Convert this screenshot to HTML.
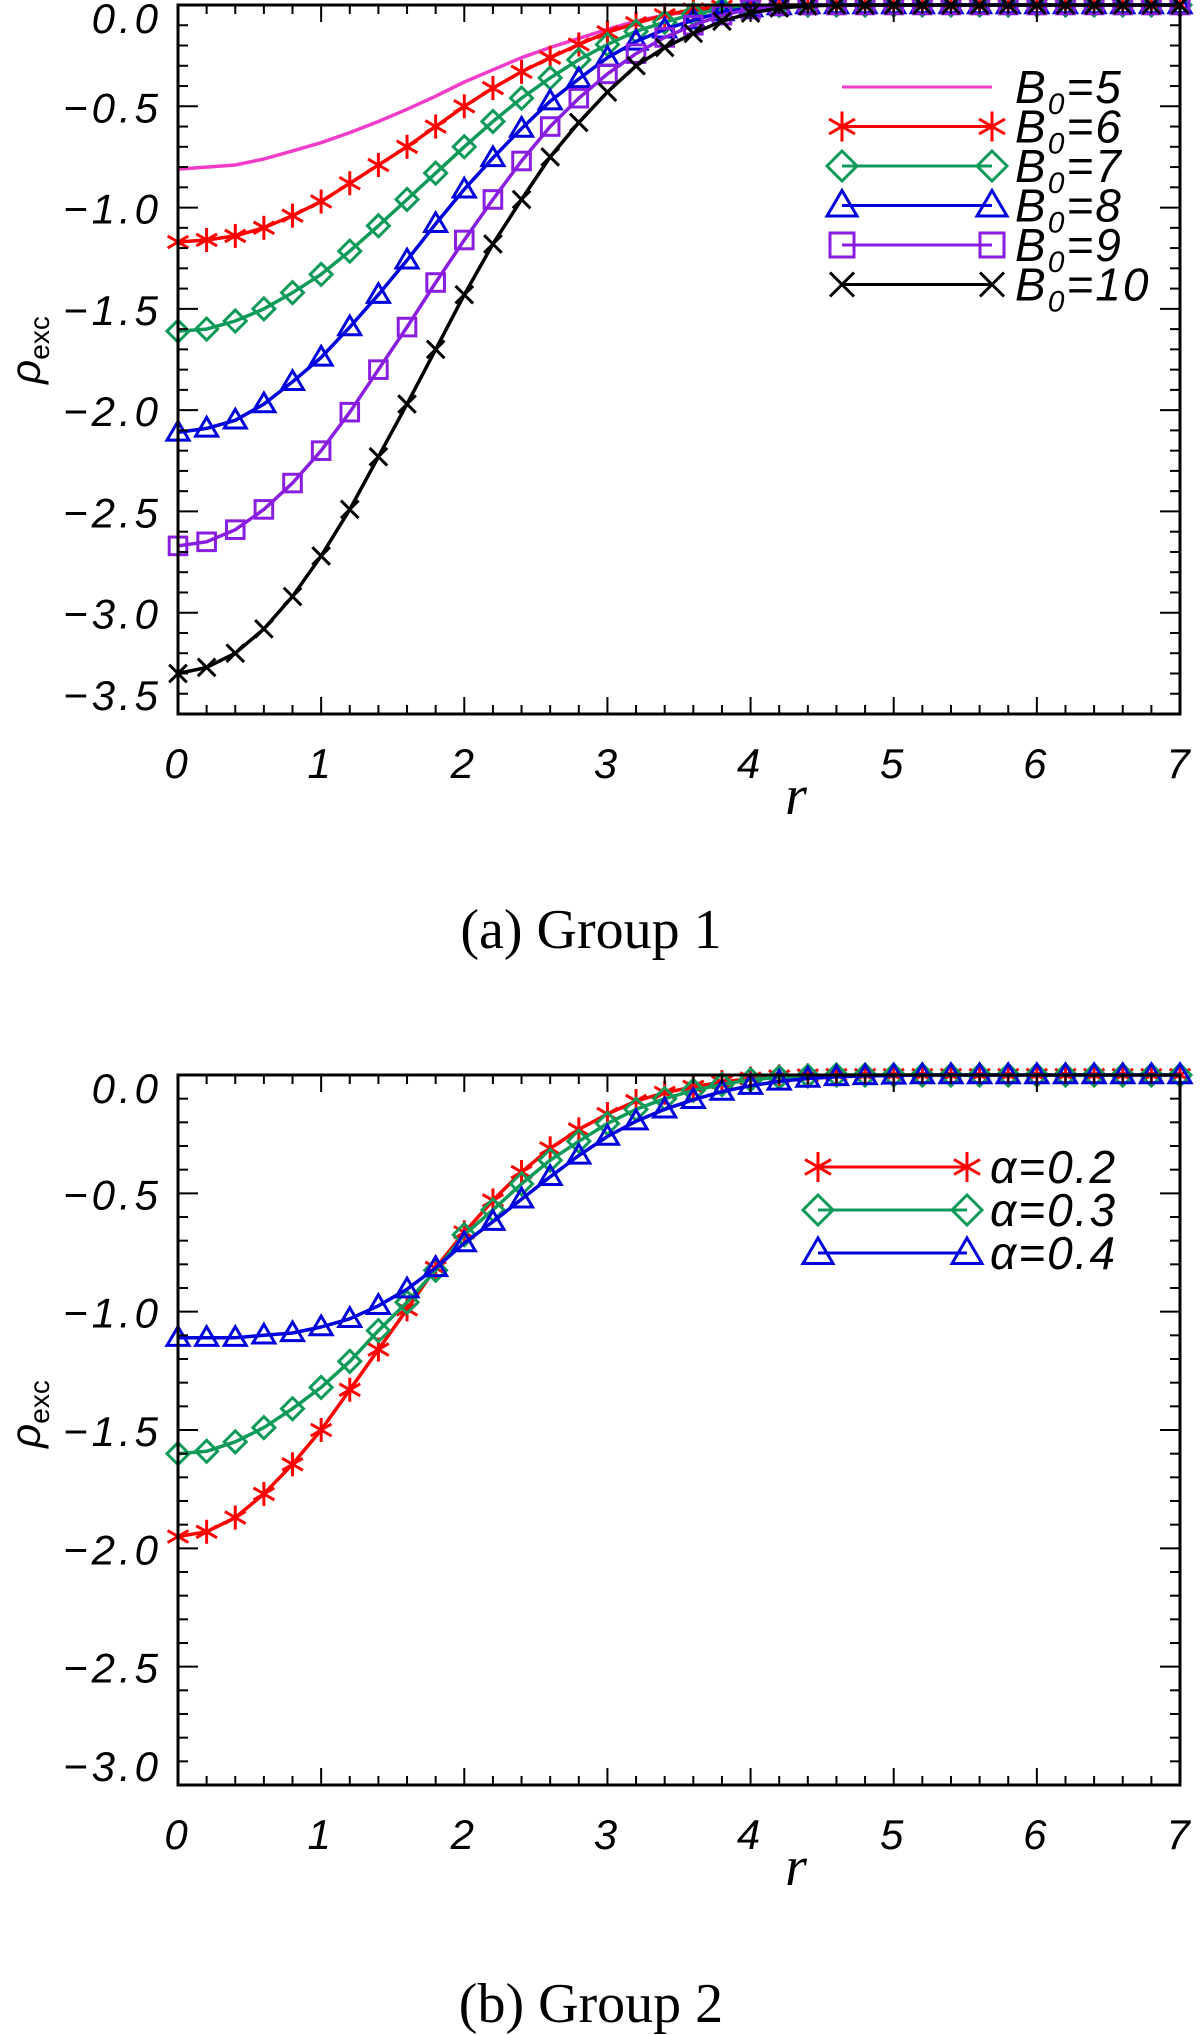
<!DOCTYPE html>
<html><head><meta charset="utf-8"><style>
html,body{margin:0;padding:0;background:#fff;}
svg{display:block;}
.tk{font-family:"Liberation Sans",sans-serif;font-style:italic;font-size:42px;letter-spacing:4px;fill:#000;}
.lg{font-family:"Liberation Sans",sans-serif;font-style:italic;font-size:46px;letter-spacing:2px;fill:#000;}
.cap{font-family:"Liberation Serif",serif;font-size:56px;fill:#000;}
</style></head><body>
<svg id="fig" width="1200" height="2035" viewBox="0 0 1200 2035" xmlns="http://www.w3.org/2000/svg"></svg>
<script>
const rVals=[0,0.2,0.4,0.6,0.8,1.0,1.2,1.4,1.6,1.8,2.0,2.2,2.4,2.6,2.8,3.0,3.2,3.4,3.6,3.8,4.0,4.2,4.4,4.6,4.8,5.0,5.2,5.4,5.6,5.8,6.0,6.2,6.4,6.6,6.8,7.0];
const xTickLabels=["0","1","2","3","4","5","6","7"];
const yTickLabels1=["0.0","−0.5","−1.0","−1.5","−2.0","−2.5","−3.0","−3.5"];
const yTickLabels2=["0.0","−0.5","−1.0","−1.5","−2.0","−2.5","−3.0"];
const legendLabels1=["5","6","7","8","9","10"];
const legendLabels2=["0.2","0.3","0.4"];
const b5=[-0.81,-0.80,-0.79,-0.76,-0.72,-0.68,-0.63,-0.575,-0.515,-0.45,-0.38,-0.32,-0.26,-0.21,-0.165,-0.12,-0.08,-0.05,-0.03,-0.015,-0.007,-0.003,0,0,0,0,0,0,0,0,0,0,0,0,0,0];
const b6=[-1.17,-1.16,-1.14,-1.10,-1.04,-0.97,-0.88,-0.79,-0.70,-0.60,-0.50,-0.41,-0.33,-0.26,-0.195,-0.135,-0.09,-0.05,-0.022,-0.008,-0.003,0,0,0,0,0,0,0,0,0,0,0,0,0,0,0];
const b7=[-1.61,-1.60,-1.56,-1.50,-1.42,-1.33,-1.215,-1.09,-0.96,-0.83,-0.70,-0.575,-0.46,-0.36,-0.27,-0.195,-0.13,-0.085,-0.045,-0.02,-0.008,-0.002,0,0,0,0,0,0,0,0,0,0,0,0,0,0];
const b8=[-2.11,-2.09,-2.05,-1.97,-1.86,-1.74,-1.59,-1.43,-1.26,-1.08,-0.91,-0.755,-0.61,-0.475,-0.365,-0.26,-0.18,-0.12,-0.075,-0.035,-0.015,-0.005,0,0,0,0,0,0,0,0,0,0,0,0,0,0];
const b9=[-2.67,-2.65,-2.59,-2.49,-2.36,-2.20,-2.01,-1.80,-1.59,-1.37,-1.16,-0.96,-0.77,-0.60,-0.46,-0.34,-0.24,-0.16,-0.10,-0.05,-0.02,-0.005,0,0,0,0,0,0,0,0,0,0,0,0,0,0];
const b10=[-3.30,-3.27,-3.20,-3.08,-2.92,-2.72,-2.49,-2.23,-1.97,-1.70,-1.43,-1.18,-0.96,-0.75,-0.58,-0.43,-0.30,-0.21,-0.14,-0.08,-0.04,-0.015,-0.005,0,0,0,0,0,0,0,0,0,0,0,0,0];
const a2=[-1.95,-1.93,-1.87,-1.77,-1.645,-1.50,-1.33,-1.16,-0.99,-0.815,-0.665,-0.53,-0.41,-0.31,-0.23,-0.165,-0.11,-0.075,-0.05,-0.03,-0.015,-0.006,-0.002,0,0,0,0,0,0,0,0,0,0,0,0,0];
const a3=[-1.60,-1.59,-1.55,-1.49,-1.41,-1.32,-1.21,-1.08,-0.96,-0.825,-0.675,-0.57,-0.46,-0.36,-0.28,-0.205,-0.145,-0.10,-0.065,-0.04,-0.02,-0.01,-0.004,0,0,0,0,0,0,0,0,0,0,0,0,0];
const a4=[-1.11,-1.11,-1.11,-1.10,-1.09,-1.065,-1.03,-0.975,-0.905,-0.815,-0.71,-0.62,-0.525,-0.43,-0.34,-0.26,-0.195,-0.145,-0.105,-0.07,-0.045,-0.027,-0.015,-0.008,-0.004,-0.002,0,0,0,0,0,0,0,0,0,0];

const NS="http://www.w3.org/2000/svg";
const svg=document.getElementById('fig');
function mk(tag,attrs,parent){const e=document.createElementNS(NS,tag);for(const k in attrs)e.setAttribute(k,attrs[k]);(parent||svg).appendChild(e);return e;}

function marker(g,type,x,y,col,s){
  const w=3;
  if(type==='ast'){
    for(const a of [0,60,120]){const r=a*Math.PI/180;mk('line',{x1:x-s*Math.sin(r),y1:y-s*Math.cos(r),x2:x+s*Math.sin(r),y2:y+s*Math.cos(r),stroke:col,'stroke-width':w},g);}
  }else if(type==='dia'){
    mk('polygon',{points:`${x},${y-s} ${x+s},${y} ${x},${y+s} ${x-s},${y}`,fill:'none',stroke:col,'stroke-width':w},g);
  }else if(type==='tri'){
    mk('polygon',{points:`${x},${y-s} ${x+s},${y+s*0.7} ${x-s},${y+s*0.7}`,fill:'none',stroke:col,'stroke-width':w},g);
  }else if(type==='sq'){
    const q=s*0.8;mk('rect',{x:x-q,y:y-q,width:2*q,height:2*q,fill:'none',stroke:col,'stroke-width':w},g);
  }else if(type==='x'){
    const q=s*0.8;
    mk('line',{x1:x-q,y1:y-q,x2:x+q,y2:y+q,stroke:col,'stroke-width':w},g);
    mk('line',{x1:x-q,y1:y+q,x2:x+q,y2:y-q,stroke:col,'stroke-width':w},g);
  }
}

function panel(cfg){
  const L=178,R=1180,T=cfg.top,B=cfg.bottom;
  const xs=v=>L+(v-0)/(7-0)*(R-L);
  const ys=v=>T+(cfg.ymax-v)/(cfg.ymax-cfg.ymin)*(B-T);
  const g=mk('g',{});
  
  
  cfg.series.forEach(s=>{
    const sg=mk('g',{},g);
    
    
    const pts=rVals.map((r,i)=>xs(r).toFixed(1)+','+ys(s.data[i]).toFixed(1)).join(' ');
    const pl=mk('polyline',{points:pts,fill:'none',stroke:s.col,'stroke-width':3.5,'stroke-linejoin':'round'},sg);
    
    
    if(s.m){rVals.forEach((r,i)=>marker(sg,s.m,xs(r),ys(s.data[i]),s.col,s.m==='ast'?12:11));}
  });
  const fr=mk('rect',{x:L,y:T,width:R-L,height:B-T,fill:'none',stroke:'#000','stroke-width':3},g);
  
  
  const ax=mk('g',{},g);
  
  
  for(let k=0;k<=35;k++){const v=k*0.2;const x=xs(v);const maj=k%5===0;const len=maj?17:9;
    mk('line',{x1:x,y1:B,x2:x,y2:B-len,stroke:'#000','stroke-width':2},ax);
    mk('line',{x1:x,y1:T,x2:x,y2:T+len,stroke:'#000','stroke-width':2},ax);}
  xTickLabels.forEach((t,i)=>{const e=mk('text',{x:xs(i),y:B+64,'text-anchor':'middle',class:'tk'},ax);e.textContent=t;
    
    });
  const xl=mk('text',{x:796,y:B+100,'text-anchor':'middle',class:'cap','font-style':'italic','font-size':'44'},ax);xl.textContent='r';
  
  
  const ay=mk('g',{},g);
  
  
  const nMinor=Math.round((cfg.ymax-cfg.ymin)/0.1);
  for(let k=0;k<=nMinor;k++){const v=cfg.ymax-k*0.1;const y=ys(v);const maj=k%5===0;const len=maj?20:10;
    mk('line',{x1:L,y1:y,x2:L+len,y2:y,stroke:'#000','stroke-width':2},ay);
    mk('line',{x1:R,y1:y,x2:R-len,y2:y,stroke:'#000','stroke-width':2},ay);}
  cfg.yLabels.forEach((t,i)=>{let y=ys(-0.5*i)+16;if(i===0)y=T+28;if(i===cfg.yLabels.length-1)y=B-4;
    const e=mk('text',{x:162,y:y,'text-anchor':'end',class:'tk'},ay);e.textContent=t;
    
    });
  const yl=mk('text',{x:0,y:0,transform:`translate(40,${cfg.ylabY}) rotate(-90)`,'text-anchor':'middle','font-family':'Liberation Sans, sans-serif','font-size':'42'},ay);
  yl.innerHTML='<tspan font-style="italic">ρ</tspan><tspan font-size="28" dy="9">exc</tspan>';
  
  
  const lg=mk('g',{},g);
  
  
  cfg.series.forEach((s,i)=>{
    const y=cfg.leg.y0+i*cfg.leg.dy;
    const eg=mk('g',{},lg);
    
    
    mk('line',{x1:cfg.leg.x1,y1:y,x2:cfg.leg.x2,y2:y,stroke:s.col,'stroke-width':3},eg);
    if(s.m){marker(eg,s.m,cfg.leg.x1,y,s.col,15);marker(eg,s.m,cfg.leg.x2,y,s.col,15);}
    const t=mk('text',{x:cfg.leg.tx,y:y+16,class:'lg'},eg);
    t.innerHTML=cfg.legText(i);
  });
  const c=mk('text',{x:591,y:cfg.capY,'text-anchor':'middle',class:'cap'},g);c.textContent=cfg.cap;
  
  
}

panel({name:'panel-group-1',top:5,bottom:714,ymin:-3.5,ymax:0,yLabels:yTickLabels1,ylabY:350,capY:948,cap:'(a)  Group 1',
  series:[{name:'series-b0-5',data:b5,col:'#f03cc8',m:null},{name:'series-b0-6',data:b6,col:'#ff0000',m:'ast'},{name:'series-b0-7',data:b7,col:'#0f9a5a',m:'dia'},{name:'series-b0-8',data:b8,col:'#0000dd',m:'tri'},{name:'series-b0-9',data:b9,col:'#8a1ee0',m:'sq'},{name:'series-b0-10',data:b10,col:'#000000',m:'x'}],
  leg:{x1:842,x2:992,y0:87,dy:39.5,tx:1015},
  legText:i=>'B<tspan font-size="30" dy="11">0</tspan><tspan dy="-11">='+legendLabels1[i]+'</tspan>'});
panel({name:'panel-group-2',top:1075,bottom:1785,ymin:-3,ymax:0,yLabels:yTickLabels2,ylabY:1414,capY:2022,cap:'(b)  Group 2',
  series:[{name:'series-alpha-0.2',data:a2,col:'#ff0000',m:'ast'},{name:'series-alpha-0.3',data:a3,col:'#0f9a5a',m:'dia'},{name:'series-alpha-0.4',data:a4,col:'#0000dd',m:'tri'}],
  leg:{x1:818,x2:967,y0:1167,dy:43,tx:990},
  legText:i=>'α='+legendLabels2[i]});
</script>
</body></html>
